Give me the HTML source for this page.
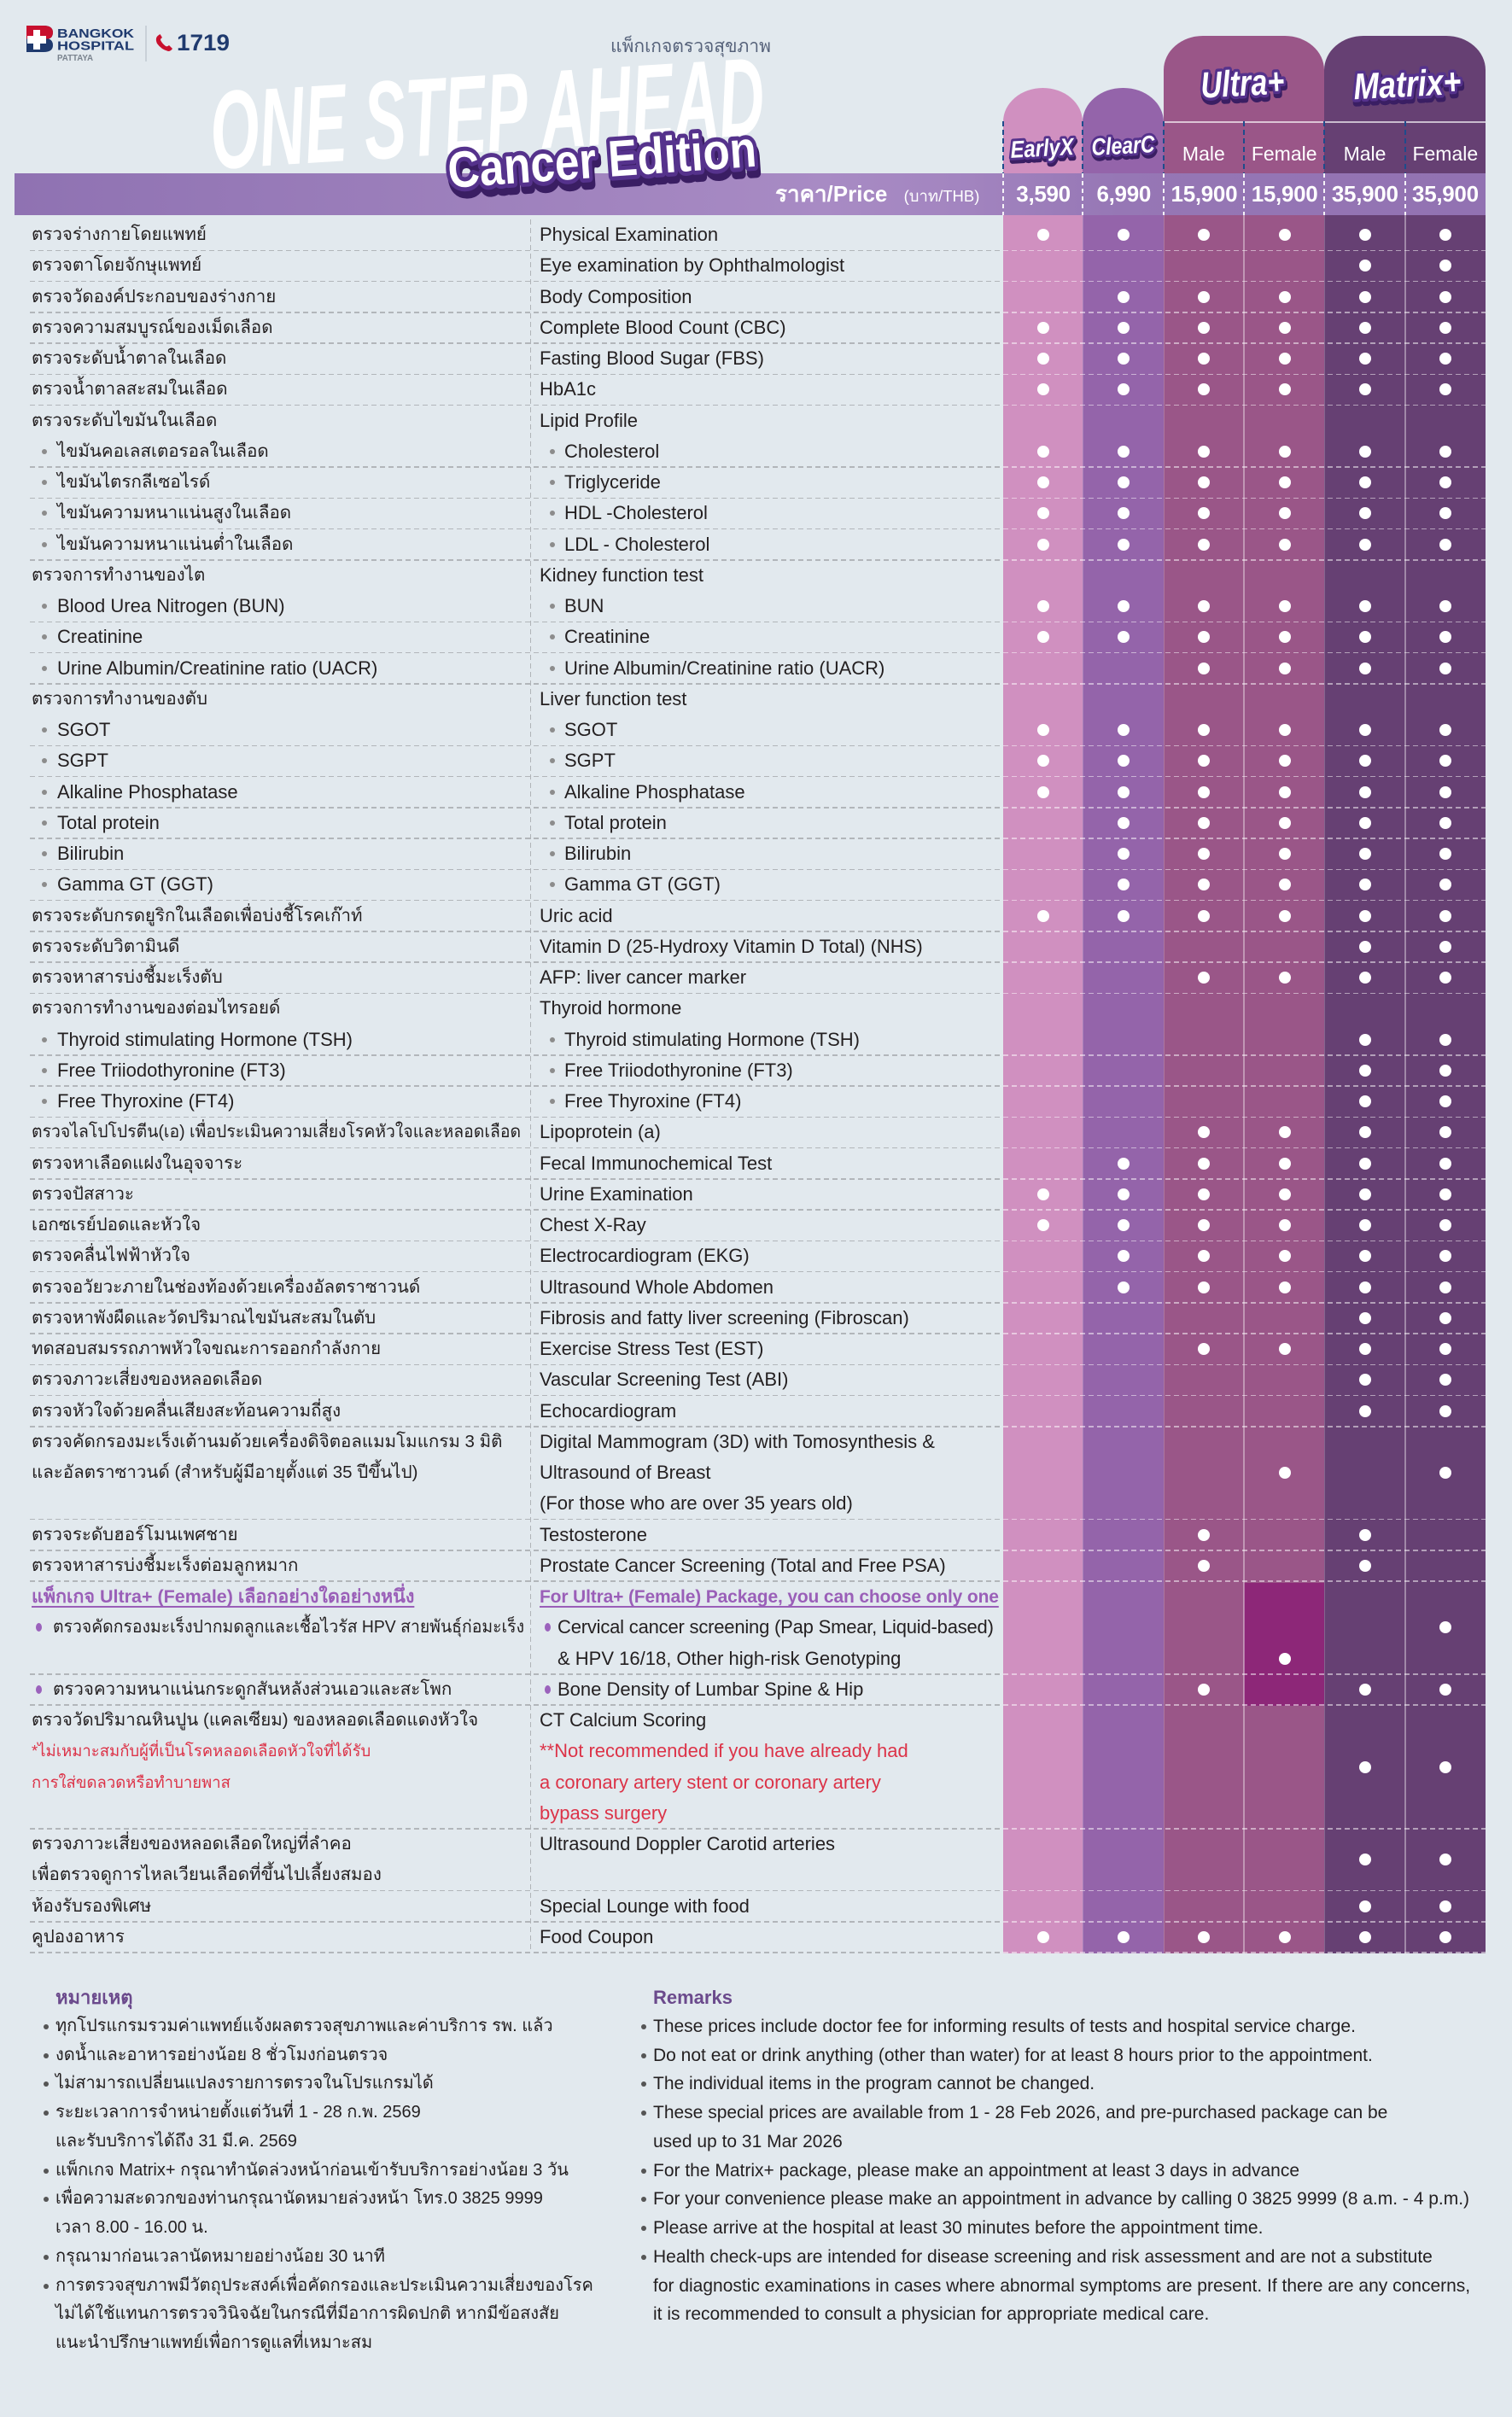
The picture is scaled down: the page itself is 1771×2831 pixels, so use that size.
<!DOCTYPE html>
<html><head><meta charset="utf-8">
<style>
*{box-sizing:border-box}
html,body{margin:0;padding:0}
body{width:1771px;height:2831px;background:#E2E9EE;position:relative;overflow:hidden;font-family:"Liberation Sans","DejaVu Sans","Noto Sans CJK SC",sans-serif;color:#231F20}
.abs{position:absolute}
.col{position:absolute;z-index:1}
.sep{position:absolute;z-index:2;width:1.5px;background:rgba(255,255,255,.38)}
.sep2{position:absolute;z-index:2;width:1px;background:rgba(255,255,255,.2)}
.bar{position:absolute;left:17px;top:203px;width:1723px;height:49px;z-index:3;background:linear-gradient(90deg,#8F72B2 0%,#A88BC4 55%,#A385C0 64%,#9677B5 75%,#9272B2 100%)}
.nd{position:absolute;z-index:4;width:2px;top:142px;height:61px;background:repeating-linear-gradient(180deg,#1E4C8C 0 6px,transparent 6px 10px)}
.wd{position:absolute;z-index:4;width:1.5px;top:203px;height:49px;background:repeating-linear-gradient(180deg,rgba(255,255,255,.9) 0 5px,transparent 5px 9px)}
.tbl{position:absolute;left:0;top:257px;width:1771px;z-index:5}
.r{position:relative;height:36.25px}
.r2{height:72.5px}.r3{height:108.75px}.r4{height:145px}
.th{position:absolute;left:37px;top:0;width:580px;font-size:20.5px;line-height:36.25px;white-space:nowrap;overflow:hidden}
.th.e{font-size:22px}
.en{position:absolute;left:632px;top:0;font-size:22px;line-height:36.25px;white-space:nowrap}
.s{padding-left:30px}
.s::before{content:"";position:absolute;left:12px;top:15px;width:6px;height:6px;border-radius:50%;background:#8C8C8C}
.en.s{padding-left:29px}
.p{padding-left:25px}
.p::before{content:"";position:absolute;left:5px;top:13px;width:7px;height:10px;border-radius:50%;background:#9B62BC}
.en.p{padding-left:21px}
.en.p::before{left:6px}
.pu{color:#9A5FB8;font-weight:bold;text-decoration:underline;text-decoration-thickness:2px;text-underline-offset:4px;font-size:21px;letter-spacing:-0.15px}
.th .pu{font-size:21.5px;letter-spacing:0}
.red{color:#DC3348}
.th .red{font-size:18.5px}
.sq{display:inline-block;transform-origin:left center}
.d{position:absolute;left:1175px;width:565px;top:0;bottom:0;display:grid;grid-template-columns:repeat(6,1fr);align-items:center;justify-items:center}
.d i{display:block;width:14px;height:14px;border-radius:50%;background:#fff}
.d b{display:block}
.ln::before{content:"";position:absolute;left:35px;width:1140px;bottom:-0.75px;height:1.5px;background:repeating-linear-gradient(90deg,#B2B6BA 0 6px,transparent 6px 10px)}
.ln::after{content:"";position:absolute;left:1175px;width:565px;bottom:-0.75px;height:1.5px;background:repeating-linear-gradient(90deg,rgba(255,255,255,.5) 0 6px,transparent 6px 10px)}
.vdiv{position:absolute;left:620.5px;top:257px;height:2030px;width:1.5px;z-index:5;background:repeating-linear-gradient(180deg,#B0B4B8 0 6px,transparent 6px 10px)}
.price{position:absolute;left:1175px;top:203px;width:565px;height:49px;z-index:6;display:grid;grid-template-columns:repeat(6,1fr);color:#fff;font-weight:bold;font-size:26px;line-height:49px;text-align:center;letter-spacing:-0.3px}
.mf{position:absolute;left:1362.7px;top:150px;width:377.3px;height:60px;z-index:6;display:grid;grid-template-columns:repeat(4,1fr);color:#fff;font-size:23px;line-height:60px;text-align:center}
.rem{position:absolute;top:2323px;z-index:5}
.rem div{position:relative;height:33.75px;line-height:33.75px;white-space:nowrap}
.rem .h{color:#6B4A8C;font-weight:bold;font-size:22px}
.rem .b::before{content:"";position:absolute;left:-14px;top:14px;width:6px;height:6px;border-radius:50%;background:#555}
.remt div{font-size:20px}
.reme div{font-size:21px}
</style></head><body>

<!-- Logo -->
<svg class="abs" style="left:0;top:0;z-index:6" width="300" height="90">
  <defs><clipPath id="bt"><rect x="31" y="30" width="32" height="15.5"/></clipPath></defs>
  <path d="M31 30 H51 Q62 30 62 38 Q62 44 57 45.5 Q62 47 62 53 Q62 61 51 61 H31 Z" fill="#1F3A6E"/>
  <path d="M31 30 H51 Q62 30 62 38 Q62 44 57 45.5 Q62 47 62 53 Q62 61 51 61 H31 Z" fill="#C8102E" clip-path="url(#bt)"/>
  <rect x="32" y="42" width="22" height="9" fill="#fff"/>
  <rect x="39" y="35" width="8" height="23" fill="#fff"/>
  <text x="67" y="44" font-family="Liberation Sans" font-weight="bold" font-size="15" fill="#1F3A6E" textLength="90" lengthAdjust="spacingAndGlyphs">BANGKOK</text>
  <text x="67" y="58.5" font-family="Liberation Sans" font-weight="bold" font-size="15" fill="#1F3A6E" textLength="90" lengthAdjust="spacingAndGlyphs">HOSPITAL</text>
  <text x="67" y="71" font-family="Liberation Sans" font-weight="bold" font-size="10" fill="#7A838E" textLength="42" lengthAdjust="spacingAndGlyphs">PATTAYA</text>
  <line x1="171" y1="30" x2="171" y2="72" stroke="#B9C1C9" stroke-width="1.2"/>
  <path d="M186 41 Q181 44 184 51 Q189 58 197 60 Q200 60 202 57 L198 53 Q196 55 194 54 Q190 51 188 47 Q188 45 190 44 L187.5 40 Z" fill="#C8102E"/>
  <text x="207" y="59" font-family="Liberation Sans" font-weight="bold" font-size="27" fill="#1F3A6E" textLength="62" lengthAdjust="spacingAndGlyphs">1719</text>
</svg>

<div class="abs" style="left:715px;top:40px;font-size:21px;line-height:30px;color:#56627A;z-index:6">แพ็กเกจตรวจสุขภาพ</div>

<!-- Columns -->
<div class="col" style="left:1175px;top:103px;width:93px;height:2185px;background:#D090C0;border-radius:47px 47px 0 0/40px 40px 0 0"></div>
<div class="col" style="left:1268px;top:103px;width:94.7px;height:2185px;background:#9464AA;border-radius:47px 47px 0 0/40px 40px 0 0"></div>
<div class="col" style="left:1362.7px;top:42px;width:188.3px;height:2246px;background:#9A5688;border-radius:46px 46px 0 0/40px 40px 0 0"></div>
<div class="col" style="left:1551px;top:42px;width:189px;height:2246px;background:#664073;border-radius:46px 46px 0 0/40px 40px 0 0"></div>
<div class="col" style="left:1457px;top:1854px;width:94px;height:144px;background:#8D2778;z-index:2"></div>
<div class="abs" style="left:1362.7px;top:142px;width:377.3px;height:1.5px;background:rgba(255,255,255,.65);z-index:2"></div>
<div class="sep" style="left:1456.3px;top:252px;height:2036px"></div>
<div class="sep" style="left:1645.3px;top:252px;height:2036px"></div>
<div class="sep2" style="left:1268px;top:252px;height:2036px"></div>
<div class="sep2" style="left:1362.5px;top:252px;height:2036px"></div>
<div class="sep2" style="left:1551px;top:252px;height:2036px"></div>

<div class="bar"></div>
<div class="nd" style="left:1174px"></div>
<div class="nd" style="left:1267px"></div>
<div class="nd" style="left:1361.7px"></div>
<div class="nd" style="left:1456px"></div>
<div class="nd" style="left:1550px"></div>
<div class="nd" style="left:1645px"></div>
<div class="wd" style="left:1174.3px"></div>
<div class="wd" style="left:1267.3px"></div>
<div class="wd" style="left:1362px"></div>
<div class="wd" style="left:1456.3px"></div>
<div class="wd" style="left:1550.3px"></div>
<div class="wd" style="left:1645.3px"></div>

<div class="abs" style="left:908px;top:203px;height:49px;line-height:49px;color:#fff;font-size:26px;font-weight:bold;z-index:6;white-space:nowrap">ราคา/Price <span style="font-size:18.5px;font-weight:normal;margin-left:12px">(บาท/THB)</span></div>
<div class="price"><div>3,590</div><div>6,990</div><div>15,900</div><div>15,900</div><div>35,900</div><div>35,900</div></div>
<div class="mf"><div>Male</div><div>Female</div><div>Male</div><div>Female</div></div>

<!-- Big header text -->
<svg class="abs" style="left:0;top:0;z-index:7" width="1771" height="260">
  <text x="249" y="198" font-family="Liberation Sans" font-weight="bold" font-style="italic" font-size="130" fill="#fff" textLength="650" lengthAdjust="spacingAndGlyphs" transform="rotate(-3.6 249 198)">ONE STEP AHEAD</text>
  <g transform="rotate(-4 526 220)" font-family="Liberation Sans" font-weight="bold" font-size="60">
    <text x="528" y="228" fill="#3A1E63" stroke="#3A1E63" stroke-width="11" stroke-linejoin="round" textLength="362" lengthAdjust="spacingAndGlyphs">Cancer Edition</text>
    <text x="526" y="220" fill="#fff" stroke="#55328C" stroke-width="10" stroke-linejoin="round" paint-order="stroke" textLength="362" lengthAdjust="spacingAndGlyphs">Cancer Edition</text>
  </g>
  <g font-family="Liberation Sans" font-weight="bold" font-style="italic" text-anchor="middle">
    <g transform="rotate(-3 1221 183)" font-size="28">
      <text x="1222" y="186.5" fill="#3A1E63" stroke="#3A1E63" stroke-width="7" stroke-linejoin="round" textLength="74" lengthAdjust="spacingAndGlyphs">EarlyX</text>
      <text x="1221" y="183" fill="#fff" stroke="#55328C" stroke-width="6" stroke-linejoin="round" paint-order="stroke" textLength="74" lengthAdjust="spacingAndGlyphs">EarlyX</text>
    </g>
    <g transform="rotate(-3 1316 180)" font-size="28">
      <text x="1317" y="183.5" fill="#3A1E63" stroke="#3A1E63" stroke-width="7" stroke-linejoin="round" textLength="74" lengthAdjust="spacingAndGlyphs">ClearC</text>
      <text x="1316" y="180" fill="#fff" stroke="#55328C" stroke-width="6" stroke-linejoin="round" paint-order="stroke" textLength="74" lengthAdjust="spacingAndGlyphs">ClearC</text>
    </g>
    <g transform="rotate(-3 1456 112)" font-size="43">
      <text x="1457" y="116.5" fill="#3A1E63" stroke="#3A1E63" stroke-width="8" stroke-linejoin="round" textLength="98" lengthAdjust="spacingAndGlyphs">Ultra+</text>
      <text x="1456" y="112" fill="#fff" stroke="#55328C" stroke-width="7" stroke-linejoin="round" paint-order="stroke" textLength="98" lengthAdjust="spacingAndGlyphs">Ultra+</text>
    </g>
    <g transform="rotate(-3 1649 113)" font-size="43">
      <text x="1650" y="117.5" fill="#3A1E63" stroke="#3A1E63" stroke-width="8" stroke-linejoin="round" textLength="126" lengthAdjust="spacingAndGlyphs">Matrix+</text>
      <text x="1649" y="113" fill="#fff" stroke="#55328C" stroke-width="7" stroke-linejoin="round" paint-order="stroke" textLength="126" lengthAdjust="spacingAndGlyphs">Matrix+</text>
    </g>
  </g>
</svg>

<div class="vdiv"></div>

<!-- Table -->
<div class="tbl">
<div class="r ln"><div class="th">ตรวจร่างกายโดยแพทย์</div><div class="en">Physical Examination</div><div class="d"><i></i><i></i><i></i><i></i><i></i><i></i></div></div>
<div class="r ln"><div class="th">ตรวจตาโดยจักษุแพทย์</div><div class="en">Eye examination by Ophthalmologist</div><div class="d"><b></b><b></b><b></b><b></b><i></i><i></i></div></div>
<div class="r ln"><div class="th">ตรวจวัดองค์ประกอบของร่างกาย</div><div class="en">Body Composition</div><div class="d"><b></b><i></i><i></i><i></i><i></i><i></i></div></div>
<div class="r ln"><div class="th">ตรวจความสมบูรณ์ของเม็ดเลือด</div><div class="en">Complete Blood Count (CBC)</div><div class="d"><i></i><i></i><i></i><i></i><i></i><i></i></div></div>
<div class="r ln"><div class="th">ตรวจระดับน้ำตาลในเลือด</div><div class="en">Fasting Blood Sugar (FBS)</div><div class="d"><i></i><i></i><i></i><i></i><i></i><i></i></div></div>
<div class="r ln"><div class="th">ตรวจน้ำตาลสะสมในเลือด</div><div class="en">HbA1c</div><div class="d"><i></i><i></i><i></i><i></i><i></i><i></i></div></div>
<div class="r"><div class="th">ตรวจระดับไขมันในเลือด</div><div class="en">Lipid Profile</div></div>
<div class="r ln"><div class="th s">ไขมันคอเลสเตอรอลในเลือด</div><div class="en s">Cholesterol</div><div class="d"><i></i><i></i><i></i><i></i><i></i><i></i></div></div>
<div class="r ln"><div class="th s">ไขมันไตรกลีเซอไรด์</div><div class="en s">Triglyceride</div><div class="d"><i></i><i></i><i></i><i></i><i></i><i></i></div></div>
<div class="r ln"><div class="th s">ไขมันความหนาแน่นสูงในเลือด</div><div class="en s">HDL -Cholesterol</div><div class="d"><i></i><i></i><i></i><i></i><i></i><i></i></div></div>
<div class="r ln"><div class="th s">ไขมันความหนาแน่นต่ำในเลือด</div><div class="en s">LDL - Cholesterol</div><div class="d"><i></i><i></i><i></i><i></i><i></i><i></i></div></div>
<div class="r"><div class="th">ตรวจการทำงานของไต</div><div class="en">Kidney function test</div></div>
<div class="r ln"><div class="th e s">Blood Urea Nitrogen (BUN)</div><div class="en s">BUN</div><div class="d"><i></i><i></i><i></i><i></i><i></i><i></i></div></div>
<div class="r ln"><div class="th e s">Creatinine</div><div class="en s">Creatinine</div><div class="d"><i></i><i></i><i></i><i></i><i></i><i></i></div></div>
<div class="r ln"><div class="th e s">Urine Albumin/Creatinine ratio (UACR)</div><div class="en s">Urine Albumin/Creatinine ratio (UACR)</div><div class="d"><b></b><b></b><i></i><i></i><i></i><i></i></div></div>
<div class="r"><div class="th">ตรวจการทำงานของตับ</div><div class="en">Liver function test</div></div>
<div class="r ln"><div class="th e s">SGOT</div><div class="en s">SGOT</div><div class="d"><i></i><i></i><i></i><i></i><i></i><i></i></div></div>
<div class="r ln"><div class="th e s">SGPT</div><div class="en s">SGPT</div><div class="d"><i></i><i></i><i></i><i></i><i></i><i></i></div></div>
<div class="r ln"><div class="th e s">Alkaline Phosphatase</div><div class="en s">Alkaline Phosphatase</div><div class="d"><i></i><i></i><i></i><i></i><i></i><i></i></div></div>
<div class="r ln"><div class="th e s">Total protein</div><div class="en s">Total protein</div><div class="d"><b></b><i></i><i></i><i></i><i></i><i></i></div></div>
<div class="r ln"><div class="th e s">Bilirubin</div><div class="en s">Bilirubin</div><div class="d"><b></b><i></i><i></i><i></i><i></i><i></i></div></div>
<div class="r ln"><div class="th e s">Gamma GT (GGT)</div><div class="en s">Gamma GT (GGT)</div><div class="d"><b></b><i></i><i></i><i></i><i></i><i></i></div></div>
<div class="r ln"><div class="th">ตรวจระดับกรดยูริกในเลือดเพื่อบ่งชี้โรคเก๊าท์</div><div class="en">Uric acid</div><div class="d"><i></i><i></i><i></i><i></i><i></i><i></i></div></div>
<div class="r ln"><div class="th">ตรวจระดับวิตามินดี</div><div class="en">Vitamin D (25-Hydroxy Vitamin D Total) (NHS)</div><div class="d"><b></b><b></b><b></b><b></b><i></i><i></i></div></div>
<div class="r ln"><div class="th">ตรวจหาสารบ่งชี้มะเร็งตับ</div><div class="en">AFP: liver cancer marker</div><div class="d"><b></b><b></b><i></i><i></i><i></i><i></i></div></div>
<div class="r"><div class="th">ตรวจการทำงานของต่อมไทรอยด์</div><div class="en">Thyroid hormone</div></div>
<div class="r ln"><div class="th e s">Thyroid stimulating Hormone (TSH)</div><div class="en s">Thyroid stimulating Hormone (TSH)</div><div class="d"><b></b><b></b><b></b><b></b><i></i><i></i></div></div>
<div class="r ln"><div class="th e s">Free Triiodothyronine (FT3)</div><div class="en s">Free Triiodothyronine (FT3)</div><div class="d"><b></b><b></b><b></b><b></b><i></i><i></i></div></div>
<div class="r ln"><div class="th e s">Free Thyroxine (FT4)</div><div class="en s">Free Thyroxine (FT4)</div><div class="d"><b></b><b></b><b></b><b></b><i></i><i></i></div></div>
<div class="r ln"><div class="th"><span class="sq" style="transform:scaleX(.945)">ตรวจไลโปโปรตีน(เอ) เพื่อประเมินความเสี่ยงโรคหัวใจและหลอดเลือด</span></div><div class="en">Lipoprotein (a)</div><div class="d"><b></b><b></b><i></i><i></i><i></i><i></i></div></div>
<div class="r ln"><div class="th">ตรวจหาเลือดแฝงในอุจจาระ</div><div class="en">Fecal Immunochemical Test</div><div class="d"><b></b><i></i><i></i><i></i><i></i><i></i></div></div>
<div class="r ln"><div class="th">ตรวจปัสสาวะ</div><div class="en">Urine Examination</div><div class="d"><i></i><i></i><i></i><i></i><i></i><i></i></div></div>
<div class="r ln"><div class="th">เอกซเรย์ปอดและหัวใจ</div><div class="en">Chest X-Ray</div><div class="d"><i></i><i></i><i></i><i></i><i></i><i></i></div></div>
<div class="r ln"><div class="th">ตรวจคลื่นไฟฟ้าหัวใจ</div><div class="en">Electrocardiogram (EKG)</div><div class="d"><b></b><i></i><i></i><i></i><i></i><i></i></div></div>
<div class="r ln"><div class="th">ตรวจอวัยวะภายในช่องท้องด้วยเครื่องอัลตราซาวนด์</div><div class="en">Ultrasound Whole Abdomen</div><div class="d"><b></b><i></i><i></i><i></i><i></i><i></i></div></div>
<div class="r ln"><div class="th">ตรวจหาพังผืดและวัดปริมาณไขมันสะสมในตับ</div><div class="en">Fibrosis and fatty liver screening (Fibroscan)</div><div class="d"><b></b><b></b><b></b><b></b><i></i><i></i></div></div>
<div class="r ln"><div class="th">ทดสอบสมรรถภาพหัวใจขณะการออกกำลังกาย</div><div class="en">Exercise Stress Test (EST)</div><div class="d"><b></b><b></b><i></i><i></i><i></i><i></i></div></div>
<div class="r ln"><div class="th">ตรวจภาวะเสี่ยงของหลอดเลือด</div><div class="en">Vascular Screening Test (ABI)</div><div class="d"><b></b><b></b><b></b><b></b><i></i><i></i></div></div>
<div class="r ln"><div class="th">ตรวจหัวใจด้วยคลื่นเสียงสะท้อนความถี่สูง</div><div class="en">Echocardiogram</div><div class="d"><b></b><b></b><b></b><b></b><i></i><i></i></div></div>
<div class="r r3 ln"><div class="th">ตรวจคัดกรองมะเร็งเต้านมด้วยเครื่องดิจิตอลแมมโมแกรม 3 มิติ<br>และอัลตราซาวนด์ (สำหรับผู้มีอายุตั้งแต่ 35 ปีขึ้นไป)</div><div class="en">Digital Mammogram (3D) with Tomosynthesis &amp;<br>Ultrasound of Breast<br>(For those who are over 35 years old)</div><div class="d"><b></b><b></b><b></b><i></i><b></b><i></i></div></div>
<div class="r ln"><div class="th">ตรวจระดับฮอร์โมนเพศชาย</div><div class="en">Testosterone</div><div class="d"><b></b><b></b><i></i><b></b><i></i><b></b></div></div>
<div class="r ln"><div class="th">ตรวจหาสารบ่งชี้มะเร็งต่อมลูกหมาก</div><div class="en">Prostate Cancer Screening (Total and Free PSA)</div><div class="d"><b></b><b></b><i></i><b></b><i></i><b></b></div></div>
<div class="r"><div class="th"><span class="pu">แพ็กเกจ Ultra+ (Female) เลือกอย่างใดอย่างหนึ่ง</span></div><div class="en"><span class="pu">For Ultra+ (Female) Package, you can choose only one</span></div></div>
<div class="r"><div class="th p"><span class="sq" style="transform:scaleX(.945)">ตรวจคัดกรองมะเร็งปากมดลูกและเชื้อไวรัส HPV สายพันธุ์ก่อมะเร็ง</span></div><div class="en p" style="letter-spacing:-0.2px">Cervical cancer screening (Pap Smear, Liquid-based)</div><div class="d"><b></b><b></b><b></b><b></b><b></b><i></i></div></div>
<div class="r ln"><div class="en" style="padding-left:21px">&amp; HPV 16/18, Other high-risk Genotyping</div><div class="d"><b></b><b></b><b></b><i></i><b></b><b></b></div></div>
<div class="r ln"><div class="th p">ตรวจความหนาแน่นกระดูกสันหลังส่วนเอวและสะโพก</div><div class="en p">Bone Density of Lumbar Spine &amp; Hip</div><div class="d"><b></b><b></b><i></i><b></b><i></i><i></i></div></div>
<div class="r r4 ln"><div class="th">ตรวจวัดปริมาณหินปูน (แคลเซียม) ของหลอดเลือดแดงหัวใจ<br><span class="red">*ไม่เหมาะสมกับผู้ที่เป็นโรคหลอดเลือดหัวใจที่ได้รับ<br>การใส่ขดลวดหรือทำบายพาส</span></div><div class="en">CT Calcium Scoring<br><span class="red">**Not recommended if you have already had<br>a coronary artery stent or coronary artery<br>bypass surgery</span></div><div class="d"><b></b><b></b><b></b><b></b><i></i><i></i></div></div>
<div class="r r2 ln"><div class="th">ตรวจภาวะเสี่ยงของหลอดเลือดใหญ่ที่ลำคอ<br>เพื่อตรวจดูการไหลเวียนเลือดที่ขึ้นไปเลี้ยงสมอง</div><div class="en">Ultrasound Doppler Carotid arteries</div><div class="d"><b></b><b></b><b></b><b></b><i></i><i></i></div></div>
<div class="r ln"><div class="th">ห้องรับรองพิเศษ</div><div class="en">Special Lounge with food</div><div class="d"><b></b><b></b><b></b><b></b><i></i><i></i></div></div>
<div class="r ln"><div class="th">คูปองอาหาร</div><div class="en">Food Coupon</div><div class="d"><i></i><i></i><i></i><i></i><i></i><i></i></div></div>
</div>

<!-- Remarks -->
<div class="rem remt" style="left:65px">
<div class="h">หมายเหตุ</div>
<div class="b">ทุกโปรแกรมรวมค่าแพทย์แจ้งผลตรวจสุขภาพและค่าบริการ รพ. แล้ว</div>
<div class="b">งดน้ำและอาหารอย่างน้อย 8 ชั่วโมงก่อนตรวจ</div>
<div class="b">ไม่สามารถเปลี่ยนแปลงรายการตรวจในโปรแกรมได้</div>
<div class="b">ระยะเวลาการจำหน่ายตั้งแต่วันที่ 1 - 28 ก.พ. 2569</div>
<div>และรับบริการได้ถึง 31 มี.ค. 2569</div>
<div class="b">แพ็กเกจ Matrix+ กรุณาทำนัดล่วงหน้าก่อนเข้ารับบริการอย่างน้อย 3 วัน</div>
<div class="b">เพื่อความสะดวกของท่านกรุณานัดหมายล่วงหน้า โทร.0 3825 9999</div>
<div>เวลา 8.00 - 16.00 น.</div>
<div class="b">กรุณามาก่อนเวลานัดหมายอย่างน้อย 30 นาที</div>
<div class="b">การตรวจสุขภาพมีวัตถุประสงค์เพื่อคัดกรองและประเมินความเสี่ยงของโรค</div>
<div>ไม่ได้ใช้แทนการตรวจวินิจฉัยในกรณีที่มีอาการผิดปกติ หากมีข้อสงสัย</div>
<div>แนะนำปรึกษาแพทย์เพื่อการดูแลที่เหมาะสม</div>
</div>

<div class="rem reme" style="left:765px">
<div class="h">Remarks</div>
<div class="b">These prices include doctor fee for informing results of tests and hospital service charge.</div>
<div class="b">Do not eat or drink anything (other than water) for at least 8 hours prior to the appointment.</div>
<div class="b">The individual items in the program cannot be changed.</div>
<div class="b">These special prices are available from 1 - 28 Feb 2026, and pre-purchased package can be</div>
<div>used up to 31 Mar 2026</div>
<div class="b">For the Matrix+ package, please make an appointment at least 3 days in advance</div>
<div class="b">For your convenience please make an appointment in advance by calling 0 3825 9999 (8 a.m. - 4 p.m.)</div>
<div class="b">Please arrive at the hospital at least 30 minutes before the appointment time.</div>
<div class="b">Health check-ups are intended for disease screening and risk assessment and are not a substitute</div>
<div>for diagnostic examinations in cases where abnormal symptoms are present. If there are any concerns,</div>
<div>it is recommended to consult a physician for appropriate medical care.</div>
</div>

</body></html>
